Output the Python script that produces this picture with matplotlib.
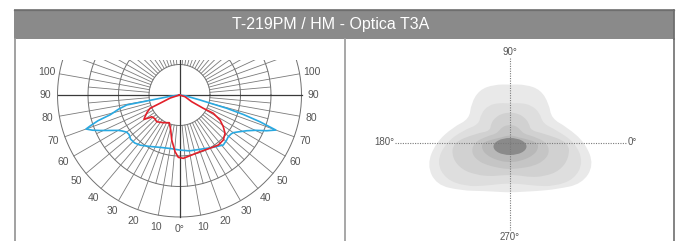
import numpy as np
import matplotlib
matplotlib.use("Agg")
import matplotlib.pyplot as plt
from matplotlib.lines import Line2D
from matplotlib.patches import Rectangle, Ellipse, PathPatch
from matplotlib.path import Path

# ---------------- data ----------------
title = "T-219PM / HM - Optica T3A"

# polar photometric curves: signed gamma angle (deg, negative = left half), relative intensity
blue_gamma = [-90, -82, -80, -79.3, -77, -74.1, -72.5, -71, -70, -68, -66, -63, -60, -58, -55,
              -52, -48, -43, -38, -30, -20, -10, 0, 10, 20.7, 32.9, 41.2, 46, 49.5, 53, 55, 58,
              62, 65, 67.7, 70, 71.6, 73, 74.3, 76.3, 82, 90]
blue_int = [0, 8, 20, 44, 51, 59, 70, 77, 81.5, 77, 71.5, 64, 58, 55.6, 53,
            52.5, 54, 53.8, 52.2, 48.7, 45.7, 44.5, 45.1, 46.5, 47.6, 51, 54.5, 53.5, 52.6, 53, 53.8, 57,
            62.4, 68.5, 77.2, 84, 69.5, 55, 40.2, 17.3, 5, 0]

red_gamma = [-90, -72, -67, -65.7, -62, -57.8, -55.6, -53, -52, -46, -40.5, -30.3, -20.2, -14.1,
             -9.8, -4.5, -1.1, 3.4, 11.5, 19.9, 29.8, 37.8, 44.2, 49.9, 54.1, 58.3, 61.6, 60.8,
             61.2, 72.8, 90]
red_int = [0, 8, 17.4, 26.5, 30, 33.4, 35.3, 31, 28.9, 28, 28.8, 26.3, 24.2, 29.6,
           37.4, 46.6, 51.1, 52, 50.2, 49.4, 50.3, 51.9, 51.5, 48.8, 44.3, 39, 31.5, 22.4,
           11.4, 4.7, 0]

ring_values = [25, 50, 75, 100]
label_values = [10, 20, 30, 40, 50, 60, 70, 80, 90, 100]

# isolux diagram: contour radius (units) at each direction angle (deg, ccw from 0°)
iso_angles = list(range(0, 360, 15))
iso_levels = [
    [7.5, 5.9, 4.8, 5.5, 6.1, 6.0, 5.8, 6.0, 6.1, 5.5, 4.7, 5.9, 7.4, 8.6, 8.5, 6.8, 5.6, 5.1, 5.0, 5.1, 5.6, 6.6, 8.3, 8.7],
    [6.5, 4.8, 3.8, 4.2, 4.3, 4.1, 3.9, 4.1, 4.3, 4.1, 3.6, 4.8, 6.4, 7.6, 7.4, 6.2, 5.0, 4.3, 4.1, 4.3, 5.0, 6.2, 7.4, 7.6],
    [5.9, 3.5, 2.4, 2.7, 2.9, 3.0, 3.0, 3.0, 2.9, 2.7, 2.3, 3.5, 5.7, 6.0, 5.5, 4.6, 3.9, 3.4, 3.25, 3.4, 4.0, 4.8, 5.7, 6.1],
    [3.7, 2.4, 1.7, 1.6, 1.7, 1.75, 1.75, 1.75, 1.7, 1.6, 1.7, 2.4, 3.6, 4.0, 3.7, 3.2, 2.85, 2.7, 2.65, 2.7, 2.9, 3.3, 3.8, 4.1],
    [2.8, 1.5, 1.0, 0.85, 0.75, 0.7, 0.7, 0.7, 0.75, 0.85, 1.0, 1.5, 2.8, 2.9, 2.6, 2.3, 2.1, 2.0, 1.95, 2.0, 2.1, 2.3, 2.6, 2.9],
]
iso_colors = ["#e9e9e9", "#dedede", "#d1d1d1", "#c5c5c5", "#b8b8b8"]
core_center = (0.0, -0.4)
core_size = (3.3, 1.7)

# ---------------- figure ----------------
W, H = 680, 241
fig = plt.figure(figsize=(W / 100, H / 100), dpi=100)
fig.patch.set_facecolor("white")


def fx(px):
    return px / W


def fy(py):
    return 1 - py / H


# header bar
fig.add_artist(Rectangle((fx(14), fy(38.5)), fx(674) - fx(14), fy(9.5) - fy(38.5),
                         transform=fig.transFigure, facecolor="#8a8a8a", edgecolor="none", zorder=5))
fig.add_artist(Line2D([fx(14), fx(674)], [fy(9.8), fy(9.8)], transform=fig.transFigure,
                      color="#6e6e6e", lw=0.9, zorder=6))
fig.text(fx(331), fy(24.5), title, color="white", fontsize=11.5, family="Liberation Sans",
         ha="center", va="center", zorder=7)
# panel borders
for xp, c in [(14.5, "#9a9a9a"), (345, "#a0a0a0"), (673.5, "#7a7a7a")]:
    fig.add_artist(Line2D([fx(xp), fx(xp)], [fy(38.5), 0], transform=fig.transFigure,
                          color=c, lw=1.3, zorder=6))
fig.add_artist(Line2D([fx(673.5), fx(673.5)], [fy(9.5), fy(38.5)], transform=fig.transFigure,
                      color="#6e6e6e", lw=1.3, zorder=6))

# ---------------- left: polar diagram ----------------
S = 1.22  # px per unit
cx, cy = 179.5, 95
axL = fig.add_axes([fx(14), 0, fx(345) - fx(14), fy(60)])
axL.set_xlim((14 - cx) / S, (345 - cx) / S)
axL.set_ylim((cy - 241) / S, (cy - 60) / S)
axL.axis("off")


def pol(g, r):
    g = np.radians(np.asarray(g, float))
    r = np.asarray(r, float)
    return r * np.sin(g), -r * np.cos(g)


t = np.linspace(0, 2 * np.pi, 400)
grid_c = "#707070"
for rv in ring_values:
    axL.plot(rv * np.cos(t), rv * np.sin(t), color=grid_c, lw=0.7)
for g in range(10, 180, 10):
    if g == 90:
        continue
    for s in (-1, 1):
        x, y = pol([s * g, s * g], [25, 100])
        axL.plot(x, y, color="#7a7a7a", lw=0.6)
for g in range(5, 180, 10):
    for s in (-1, 1):
        x, y = pol([s * g, s * g], [25, 75])
        axL.plot(x, y, color="#7a7a7a", lw=0.6)
axL.plot([-100, 100], [0, 0], color="#3a3a3a", lw=0.9)
axL.plot([0, 0], [40, -100], color="#3a3a3a", lw=0.9)

x, y = pol(blue_gamma, blue_int)
axL.plot(x, y, color="#29a9e1", lw=1.2, solid_joinstyle="round", zorder=4)
x, y = pol(red_gamma, red_int)
axL.plot(x, y, color="#e3202a", lw=1.2, solid_joinstyle="round", zorder=5)

lab_kw = dict(fontsize=7.5, color="#555555", family="Liberation Sans", ha="center", va="center",
              clip_on=False)
for v in label_values:
    for s in (-1, 1):
        lx, ly = pol(s * v, 110)
        axL.text(lx, ly, str(v), **lab_kw)
lx, ly = pol(0, 109.5)
axL.text(lx, ly, "0°", **lab_kw)

# ---------------- right: isolux diagram ----------------
U = 10.0  # px per unit
rcx, rcy = 510, 142.5
axR = fig.add_axes([fx(345), 0, fx(674) - fx(345), fy(38.5)])
axR.set_xlim((345 - rcx) / U, (674 - rcx) / U)
axR.set_ylim((rcy - 241) / U, (rcy - 38.5) / U)
axR.axis("off")


def smooth_closed(xs, ys):
    pts = np.column_stack([xs, ys])
    n = len(pts)
    mids = (pts + np.roll(pts, -1, axis=0)) / 2
    verts = [mids[-1]]
    codes = [Path.MOVETO]
    for i in range(n):
        verts += [pts[i], mids[i]]
        codes += [Path.CURVE3, Path.CURVE3]
    verts.append(mids[-1])
    codes.append(Path.CLOSEPOLY)
    return Path(verts, codes)


ang = np.radians(iso_angles)
for radii, col in zip(iso_levels, iso_colors):
    r = np.asarray(radii)
    path = smooth_closed(r * np.cos(ang), r * np.sin(ang))
    axR.add_patch(PathPatch(path, facecolor=col, edgecolor="none"))
axR.add_patch(Ellipse(core_center, core_size[0], core_size[1], facecolor="#8a8a8a", edgecolor="none"))

dot_kw = dict(color="#7a7a7a", lw=0.8, linestyle=(0, (1, 1.2)), zorder=5)
axR.plot([-11.5, 11.7], [0, 0], **dot_kw)
axR.plot([0, 0], [8.45, -8.75], **dot_kw)
rl_kw = dict(fontsize=7, color="#555555", family="Liberation Sans", va="center", clip_on=False)
axR.text(0, 9.05, "90°", ha="center", **rl_kw)
axR.text(0, -9.45, "270°", ha="center", **rl_kw)
axR.text(-11.6, 0.05, "180°", ha="right", **rl_kw)
axR.text(11.8, 0.05, "0°", ha="left", **rl_kw)

fig.savefig("out.png", dpi=100, facecolor="white")
